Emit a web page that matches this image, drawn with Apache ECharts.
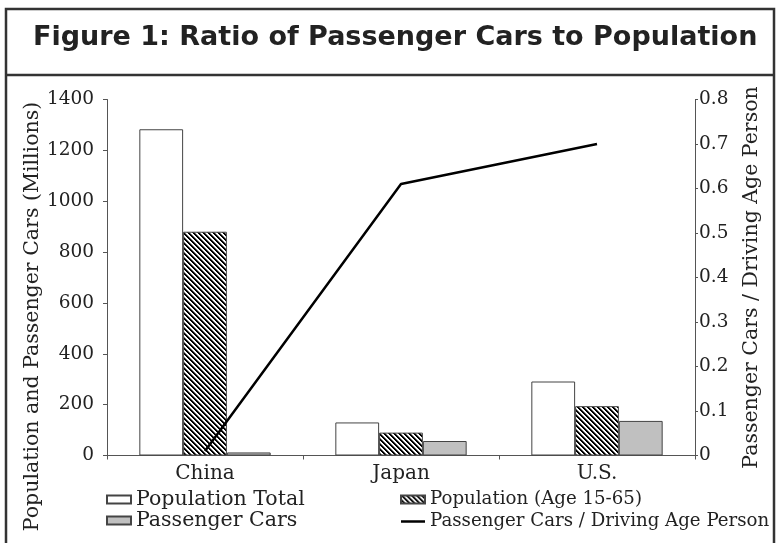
<!DOCTYPE html>
<html>
<head>
<meta charset="utf-8">
<script src="https://cdn.jsdelivr.net/npm/echarts@6/dist/echarts.min.js"></script>
<style>
  html, body { margin: 0; padding: 0; background: #fff; }
  #chart { width: 778px; height: 543px; }
</style>
</head>
<body>
<div id="chart"></div>
<script>
// ---- data ----
const categories = ['China', 'Japan', 'U.S.'];
const populationTotal = [1283, 130, 291];
const populationWorkingAge = [880, 90, 194];
const passengerCars = [12, 57, 136];
const carsPerDrivingAgePerson = [0.01, 0.61, 0.70];
const seriesNames = ['Population Total', 'Population (Age 15-65)', 'Passenger Cars', 'Passenger Cars / Driving Age Person'];
const chartTitle = 'Figure 1: Ratio of Passenger Cars to Population';
const leftAxisTitle = 'Population and Passenger Cars (Millions)';
const rightAxisTitle = 'Passenger Cars / Driving Age Person';

// hatch pattern "\\\\"
function makeHatch() {
  const p = 5;
  const c = document.createElement('canvas');
  c.width = p; c.height = p;
  const ctx = c.getContext('2d');
  const img = ctx.createImageData(p, p);
  for (let y = 0; y < p; y++) {
    for (let x = 0; x < p; x++) {
      const d = (((x - y) % p) + p) % p;
      let v = 255;
      if (d === 0 || d === 1) v = 0;
      else if (d === 2) v = 120;
      const i = (y * p + x) * 4;
      img.data[i] = v; img.data[i + 1] = v; img.data[i + 2] = v; img.data[i + 3] = 255;
    }
  }
  ctx.putImageData(img, 0, 0);
  return c;
}

const serif = 'DejaVu Serif';
const textColor = '#222';
const axisColor = '#555';

const chart = echarts.init(document.getElementById('chart'), null, { renderer: 'canvas' });

const option = {
  animation: false,
  backgroundColor: '#fff',
  title: {
    text: chartTitle,
    left: 33,
    top: 24,
    padding: 0,
    textStyle: { fontFamily: 'DejaVu Sans', fontWeight: 'bold', fontSize: 27, color: '#222' }
  },
  graphic: [
    { type: 'rect', shape: { x: 6, y: 9, width: 768, height: 545 }, style: { fill: 'none', stroke: '#333', lineWidth: 2.5 }, silent: true },
    { type: 'line', shape: { x1: 6, y1: 75, x2: 774, y2: 75 }, style: { stroke: '#333', lineWidth: 2.5 }, silent: true }
  ],
  grid: { left: 107, right: 83, top: 99.5, bottom: 87.5 },
  legend: [
    {
      data: [seriesNames[0], seriesNames[2]],
      orient: 'vertical', left: 101, top: 484,
      itemWidth: 24, itemHeight: 8, itemGap: 0, icon: 'rect',
      textStyle: { fontFamily: serif, fontSize: 20.5, color: textColor, lineHeight: 21 }
    },
    {
      data: [
        { name: seriesNames[1], icon: 'rect' },
        { name: seriesNames[3], icon: 'path://M0,0 L24,0 L24,2.5 L0,2.5 Z', itemStyle: { color: '#000', borderWidth: 0 } }
      ],
      orient: 'vertical', left: 395, top: 485,
      itemWidth: 24, itemHeight: 8, itemGap: 3, symbolKeepAspect: true,
      textStyle: { fontFamily: serif, fontSize: 18.2, color: textColor, lineHeight: 19 }
    }
  ],
  xAxis: {
    type: 'category',
    data: categories,
    axisLine: { lineStyle: { color: axisColor, width: 1 } },
    axisTick: { show: true, length: 4, lineStyle: { color: axisColor } },
    axisLabel: { fontFamily: serif, fontSize: 20, color: textColor, margin: 8 }
  },
  yAxis: [
    {
      type: 'value', min: 0, max: 1400, interval: 200,
      name: leftAxisTitle, nameLocation: 'middle', nameGap: 64, nameRotate: 90,
      nameMoveOverlap: false,
      nameTextStyle: { fontFamily: serif, fontSize: 20.5, color: textColor, padding: [0, 78, 0, 0] },
      axisLine: { show: true, lineStyle: { color: axisColor, width: 1 } },
      axisTick: { show: true, length: 4, lineStyle: { color: axisColor } },
      axisLabel: { fontFamily: serif, fontSize: 18.5, color: textColor, margin: 13,
        formatter: v => String(v) },
      splitLine: { show: false }
    },
    {
      type: 'value', position: 'right', min: 0, max: 0.8, interval: 0.1,
      name: rightAxisTitle, nameLocation: 'middle', nameGap: 46, nameRotate: 90,
      nameMoveOverlap: false,
      nameTextStyle: { fontFamily: serif, fontSize: 20.5, color: textColor },
      axisLine: { show: true, lineStyle: { color: axisColor, width: 1 } },
      axisTick: { show: true, length: 3, lineStyle: { color: axisColor } },
      axisLabel: { fontFamily: serif, fontSize: 18.5, color: textColor, margin: 4,
        formatter: v => (v === 0 ? '0' : v.toFixed(1)) },
      splitLine: { show: false }
    }
  ],
  series: [
    {
      name: seriesNames[0], type: 'bar', data: populationTotal,
      barGap: '0%', barCategoryGap: '33%',
      itemStyle: { color: '#fff', borderColor: '#444', borderWidth: 1 }
    },
    {
      name: seriesNames[1], type: 'bar', data: populationWorkingAge,
      itemStyle: { color: { image: makeHatch(), repeat: 'repeat' }, borderColor: '#444', borderWidth: 1 }
    },
    {
      name: seriesNames[2], type: 'bar', data: passengerCars,
      itemStyle: { color: '#c0c0c0', borderColor: '#444', borderWidth: 1 }
    },
    {
      name: seriesNames[3], type: 'line', yAxisIndex: 1, data: carsPerDrivingAgePerson,
      symbol: 'none', lineStyle: { color: '#000', width: 2.5 }, itemStyle: { color: '#000' }
    }
  ]
};
chart.setOption(option);
</script>
</body>
</html>
